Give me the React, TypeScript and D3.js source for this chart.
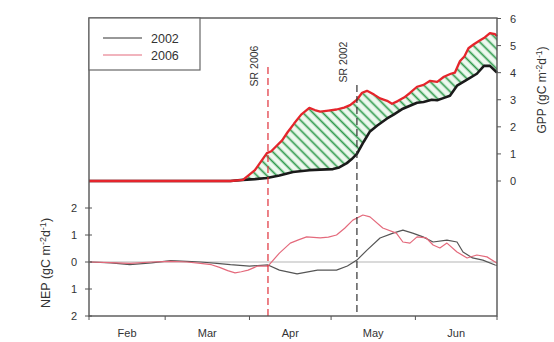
import React from "react";
import * as d3 from "d3";

// Day of year for each GPP / NEP sample (Feb 1 = 32, Jul 1 = 182)
const gppDays2006 = [32, 50, 70, 84, 88.6, 93, 97.4, 99, 101, 103, 105, 107.4, 110, 113, 115, 117, 120, 123, 125.8, 128, 130.5, 132.4, 134.2, 136.8, 139, 141.6, 143.4, 145.5, 147.8, 150, 152.6, 155, 157.4, 160, 162.5, 165, 166.5, 168.4, 170, 171.5, 173.5, 175.8, 177.5, 179.4, 181.3, 182];
const gpp2006 = [0, 0, 0, 0, 0.04, 0.4, 1.03, 1.1, 1.3, 1.5, 1.8, 2.12, 2.45, 2.7, 2.62, 2.56, 2.6, 2.64, 2.71, 2.8, 3.0, 3.26, 3.33, 3.19, 3.05, 2.96, 2.85, 2.95, 3.08, 3.25, 3.48, 3.55, 3.7, 3.66, 3.85, 3.96, 4.0, 4.43, 4.6, 4.9, 5.05, 5.2, 5.3, 5.46, 5.42, 5.35];

const gppDays2002 = [32, 70, 84, 88.6, 93, 97.4, 102, 107, 113, 117, 121.7, 124, 126.8, 128.5, 130.5, 133, 135.3, 138, 141.6, 144, 147.4, 150, 152.6, 155, 158, 160, 162, 164.7, 167.3, 169, 171, 174.6, 177.2, 179.4, 181.3, 182];
const gpp2002 = [0, 0, 0, 0.04, 0.07, 0.11, 0.2, 0.33, 0.4, 0.42, 0.44, 0.5, 0.66, 0.8, 1.0, 1.45, 1.83, 2.05, 2.31, 2.45, 2.67, 2.78, 2.89, 2.92, 3.0, 2.98, 3.05, 3.15, 3.52, 3.62, 3.74, 3.96, 4.25, 4.25, 4.07, 4.0];

const nepDays2006 = [32.4, 40, 47, 55, 62, 68, 73, 77, 80, 83, 85.7, 88, 90.5, 94, 97.8, 102, 106, 109, 112, 117, 120, 123, 126, 129, 132.7, 135.3, 140, 145, 147.4, 150, 152.6, 156, 158.5, 161, 163.6, 167.3, 171, 174.6, 178.3, 181.3, 182];
const nep2006 = [0, -0.02, -0.05, 0, 0.02, 0, -0.05, -0.1, -0.2, -0.32, -0.4, -0.36, -0.3, -0.15, -0.15, 0.33, 0.7, 0.82, 0.93, 0.89, 0.92, 1.0, 1.25, 1.55, 1.74, 1.67, 1.26, 1.07, 0.74, 0.7, 0.93, 0.89, 0.63, 0.52, 0.7, 0.37, 0.15, 0.26, 0.19, 0.0, -0.05];

const nepDays2002 = [32.4, 40, 47, 55, 62, 68, 73, 79, 84, 91, 97.8, 102, 108.5, 116, 123, 127, 130.5, 134.2, 139, 143.8, 147.4, 151, 154.8, 158.5, 163.6, 167.3, 169.5, 173, 176.8, 181.3, 182];
const nep2002 = [0, -0.03, -0.1, -0.03, 0.05, 0.02, 0, -0.05, -0.1, -0.15, -0.11, -0.3, -0.44, -0.3, -0.3, -0.15, 0.07, 0.44, 0.89, 1.07, 1.18, 1.07, 0.93, 0.74, 0.81, 0.74, 0.37, 0.15, 0.07, -0.11, -0.12];

// Month boundaries (day of year) and labels centred within each month
const monthStarts = [32, 60, 91, 121, 152, 182];
const monthLabels = ["Feb", "Mar", "Apr", "May", "Jun"];

const gppTicks = [0, 1, 2, 3, 4, 5, 6];
const nepTicks = [2, 1, 0, -1, -2];
const nepTickLabels = ["2", "1", "0", "1", "2"];

// Start of the growing season (day of year)
const srYears = ["2006", "2002"];
const srDays = [97.8, 130.5];

const seriesYears = ["2002", "2006"];

const FONT = "'Liberation Sans', Arial, sans-serif";

export default function App() {
  const left = 89;
  const right = 497;
  const top = 18;
  const bottom = 316;

  const x = d3.scaleLinear().domain([32, 182]).range([left, right]);
  const yG = d3.scaleLinear().domain([0, 6]).range([181, 18.5]);
  const yN = d3.scaleLinear().domain([-2, 2]).range([bottom, 208]);

  const g06 = gppDays2006.map((d, i) => [d, gpp2006[i]] as [number, number]);
  const g02 = gppDays2002.map((d, i) => [d, gpp2002[i]] as [number, number]);
  const n06 = nepDays2006.map((d, i) => [d, nep2006[i]] as [number, number]);
  const n02 = nepDays2002.map((d, i) => [d, nep2002[i]] as [number, number]);

  const lineG = d3.line<[number, number]>().x((d) => x(d[0])).y((d) => yG(d[1]));
  const lineN = d3.line<[number, number]>().x((d) => x(d[0])).y((d) => yN(d[1]));

  // Region between the two GPP curves
  const band = lineG([...g06, ...g02.slice().reverse()]) + "Z";

  const srColors = ["#e0303a", "#333"];
  const srTop = [67, 85];
  const srLabelY = [66, 62];

  return (
    <svg width={554} height={342} style={{ display: "block", position: "absolute", left: 0, top: 0 }} fontFamily={FONT}>
      <defs>
        <pattern id="hatch" width={7} height={7} patternUnits="userSpaceOnUse" patternTransform="rotate(-45)">
          <rect width={7} height={7} fill="#eef8ef" />
          <line x1={1.5} y1={0} x2={1.5} y2={7} stroke="#2f9a4c" strokeWidth={1.7} />
        </pattern>
      </defs>
      <rect width={554} height={342} fill="#fff" />

      {/* hatched difference between years */}
      <path d={band} fill="url(#hatch)" stroke="none" />

      {/* NEP zero reference */}
      <line x1={left} x2={right} y1={yN(0)} y2={yN(0)} stroke="#b5b5b5" strokeWidth={1} />

      {/* GPP curves */}
      <path d={lineG(g02) || ""} fill="none" stroke="#1a1a1a" strokeWidth={2.6} strokeLinejoin="round" />
      <path d={lineG(g06) || ""} fill="none" stroke="#e5252c" strokeWidth={2.3} strokeLinejoin="round" />

      {/* NEP curves */}
      <path d={lineN(n02) || ""} fill="none" stroke="#555" strokeWidth={1.2} strokeLinejoin="round" />
      <path d={lineN(n06) || ""} fill="none" stroke="#e46a7c" strokeWidth={1.2} strokeLinejoin="round" />

      {/* start-of-season markers */}
      {srDays.map((d, i) => (
        <g key={srYears[i]}>
          <line x1={x(d)} x2={x(d)} y1={srTop[i]} y2={bottom} stroke={srColors[i]} strokeWidth={1.2} strokeDasharray="7,4" />
          <text
            transform={`translate(${x(d) - 10},${srLabelY[i]}) rotate(-90)`}
            textAnchor="middle"
            fontSize={10.5}
            fill="#333"
          >
            {`SR ${srYears[i]}`}
          </text>
        </g>
      ))}

      {/* frame */}
      <rect x={left} y={top} width={right - left} height={bottom - top} fill="none" stroke="#555" strokeWidth={1.4} />

      {/* x axis */}
      {monthStarts.map((d) => (
        <line key={d} x1={x(d)} x2={x(d)} y1={bottom} y2={bottom + 4} stroke="#555" strokeWidth={1} />
      ))}
      {monthLabels.map((m, i) => (
        <text key={m} x={(x(monthStarts[i]) + x(monthStarts[i + 1])) / 2} y={337} textAnchor="middle" fontSize={11} fill="#333">
          {m}
        </text>
      ))}

      {/* right GPP axis */}
      {gppTicks.map((t) => (
        <g key={t}>
          <line x1={right} x2={right + 4} y1={yG(t)} y2={yG(t)} stroke="#555" strokeWidth={1} />
          <text x={510} y={yG(t) + 4} fontSize={11} fill="#333">
            {t}
          </text>
        </g>
      ))}
      <text transform={`translate(546,90) rotate(-90)`} textAnchor="middle" fontSize={12} fill="#333">
        GPP (gC m<tspan dy={-4} fontSize={8.5}>-2</tspan>
        <tspan dy={4}>d</tspan>
        <tspan dy={-4} fontSize={8.5}>-1</tspan>
        <tspan dy={4}>)</tspan>
      </text>

      {/* left NEP axis */}
      {nepTicks.map((t, i) => (
        <g key={t}>
          <line x1={left - 4} x2={left + 3} y1={yN(t)} y2={yN(t)} stroke="#555" strokeWidth={1} />
          <text x={77} y={yN(t) + 4} textAnchor="end" fontSize={11} fill="#333">
            {nepTickLabels[i]}
          </text>
        </g>
      ))}
      <text transform={`translate(50,263) rotate(-90)`} textAnchor="middle" fontSize={12.5} fill="#333">
        NEP (gC m<tspan dy={-4} fontSize={9}>-2</tspan>
        <tspan dy={4}>d</tspan>
        <tspan dy={-4} fontSize={9}>-1</tspan>
        <tspan dy={4}>)</tspan>
      </text>

      {/* legend */}
      <rect x={left} y={top} width={111} height={52} fill="#fff" stroke="#666" strokeWidth={1.2} />
      {seriesYears.map((yr, i) => (
        <g key={yr}>
          <line x1={103} x2={142} y1={38 + i * 17} y2={38 + i * 17} stroke={i === 0 ? "#333" : "#e46a7c"} strokeWidth={1.2} />
          <text x={151} y={42.5 + i * 17} fontSize={12.5} fill="#333">
            {yr}
          </text>
        </g>
      ))}
    </svg>
  );
}
